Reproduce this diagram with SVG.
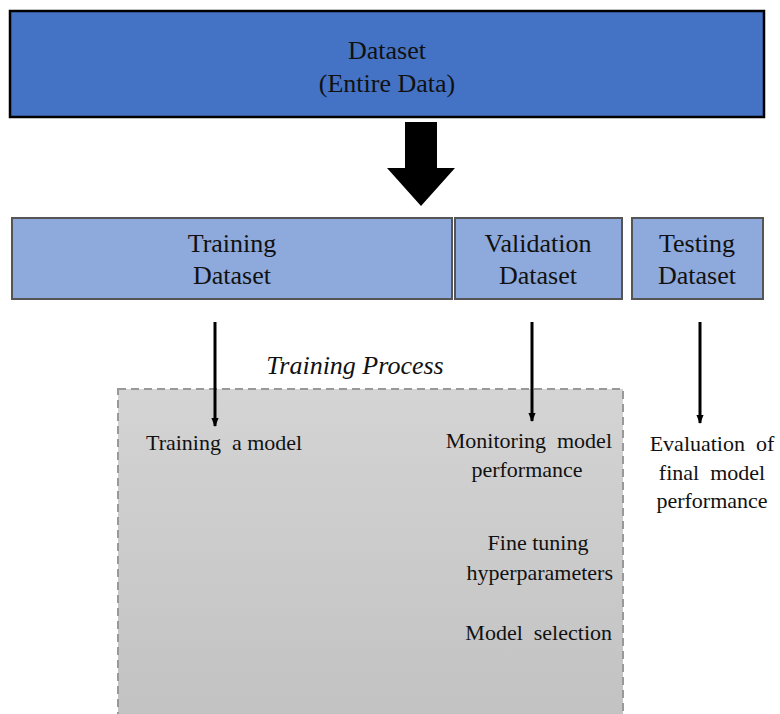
<svg xmlns="http://www.w3.org/2000/svg" width="780" height="714" viewBox="0 0 780 714">
<defs>
<linearGradient id="gbg" x1="0" y1="0" x2="0" y2="1">
<stop offset="0" stop-color="#d4d4d4"/>
<stop offset="1" stop-color="#c2c2c2"/>
</linearGradient>
<marker id="ah" viewBox="0 0 10 10" refX="9" refY="5" markerWidth="3" markerHeight="3" orient="auto">
<path d="M0,1 L10,5 L0,9 z" fill="#000"/>
</marker>
<style>
.t{font-family:"Liberation Serif","Times New Roman",serif;fill:#111;white-space:pre;}
.big{font-size:26px;}
.sm{font-size:22px;}
.split{fill:#8EA9DB;stroke:#555;stroke-width:2;}
.conn{stroke:#000;stroke-width:3;fill:none;marker-end:url(#ah);}
</style>
</defs>
<rect width="780" height="714" fill="#fff"/>
<g id="dataset">
<rect x="10" y="11" width="754" height="106" fill="#4472C4" stroke="#000" stroke-width="2.5"/>
<text class="t big" x="387" y="59" text-anchor="middle">Dataset</text>
<text class="t big" x="387" y="92" text-anchor="middle">(Entire Data)</text>
</g>
<g id="split-arrow">
<path d="M405,122 L437,122 L437,168 L455,168 L421,206 L387,168 L405,168 z" fill="#000"/>
</g>
<g id="training">
<rect class="split" x="12" y="218" width="440" height="81"/>
<text class="t big" x="232" y="252" text-anchor="middle">Training</text>
<text class="t big" x="232" y="284" text-anchor="middle">Dataset</text>
</g>
<g id="validation">
<rect class="split" x="455" y="218" width="167" height="81"/>
<text class="t big" x="538" y="252" text-anchor="middle">Validation</text>
<text class="t big" x="538" y="284" text-anchor="middle">Dataset</text>
</g>
<g id="testing">
<rect class="split" x="632" y="218" width="131" height="81"/>
<text class="t big" x="697" y="252" text-anchor="middle">Testing</text>
<text class="t big" x="697" y="284" text-anchor="middle">Dataset</text>
</g>
<g id="process">
<rect x="118" y="389" width="505" height="330" fill="url(#gbg)" stroke="#999" stroke-width="2" stroke-dasharray="8,5"/>
<text class="t big" x="355" y="374" text-anchor="middle" font-style="italic">Training Process</text>
</g>
<g id="connectors">
<line class="conn" x1="215" y1="322" x2="215" y2="426"/>
<line class="conn" x1="532" y1="322" x2="532" y2="421"/>
<line class="conn" x1="700" y1="322" x2="700" y2="423"/>
</g>
<g id="train-model">
<text class="t sm" x="146" y="450">Training  a model</text>
</g>
<g id="monitoring">
<text class="t sm" x="612" y="448" text-anchor="end">Monitoring  model</text>
<text class="t sm" x="527" y="477" text-anchor="middle">performance</text>
</g>
<g id="fine-tuning">
<text class="t sm" x="538" y="550" text-anchor="middle">Fine tuning</text>
<text class="t sm" x="613" y="580" text-anchor="end">hyperparameters</text>
</g>
<g id="model-selection">
<text class="t sm" x="612" y="640" text-anchor="end">Model  selection</text>
</g>
<g id="evaluation">
<text class="t sm" x="712" y="451" text-anchor="middle">Evaluation  of</text>
<text class="t sm" x="712" y="480" text-anchor="middle">final  model</text>
<text class="t sm" x="712" y="508" text-anchor="middle">performance</text>
</g>
</svg>
